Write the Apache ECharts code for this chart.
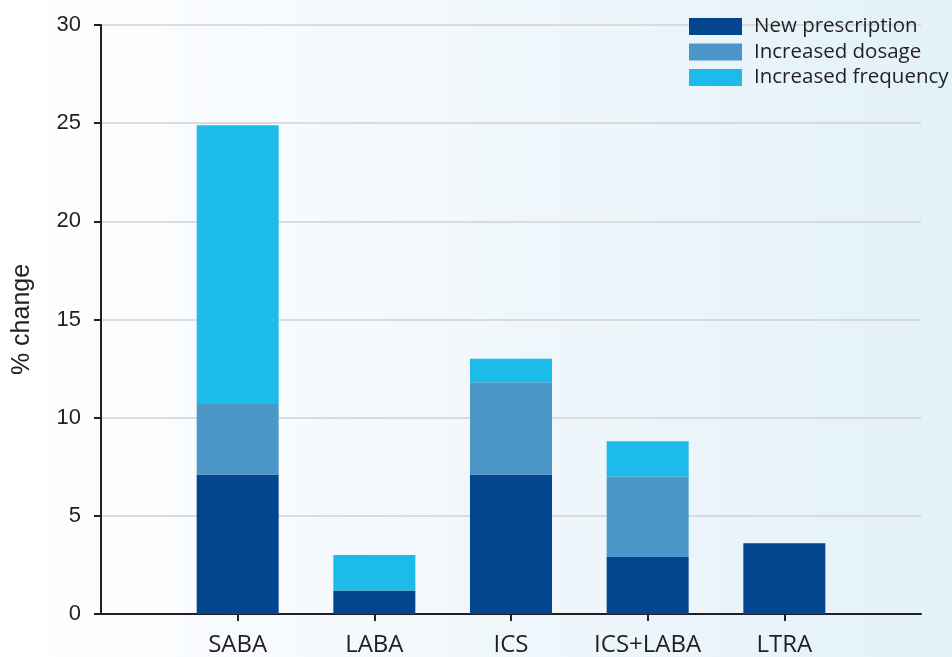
<!DOCTYPE html>
<html>
<head>
<meta charset="utf-8">
<script src="https://cdn.jsdelivr.net/npm/echarts@6/dist/echarts.min.js"></script>
<style>
html,body{margin:0;padding:0;}
#c{width:952px;height:657px;background:linear-gradient(to right,#ffffff 0%,#f8fbfe 25%,#eef6fb 60%,#e3f1f9 100%);}
</style>
</head>
<body>
<div id="c"></div>
<script>
const categories = ['', 'SABA', 'LABA', 'ICS', 'ICS+LABA', 'LTRA', ''];
const newPrescription = [null, 7.1, 1.2, 7.1, 2.9, 3.6, null];
const increasedDosage = [null, 3.6, null, 4.7, 4.1, null, null];
const increasedFrequency = [null, 14.2, 1.8, 1.2, 1.8, null, null];
const seriesNames = ['New prescription', 'Increased dosage', 'Increased frequency'];
const colors = ['#03468f', '#4a97c8', '#1dbbe9'];

const chart = echarts.init(document.getElementById('c'), null, {renderer: 'canvas'});
const mk = (name, data, color) => ({
  name: name, type: 'bar', stack: 'total', data: data, barWidth: 82,
  itemStyle: {color: color}, emphasis: {disabled: true}
});
chart.setOption({
  animation: false,
  backgroundColor: 'transparent',
  color: colors,
  grid: {left: 101, right: 31, top: 25, bottom: 43, containLabel: false},
  legend: {
    orient: 'vertical', left: 689, top: 16, padding: 0,
    itemWidth: 53, itemHeight: 17, itemGap: 4.5,
    icon: 'rect',
    textStyle: {fontSize: 20.5, color: '#231f20', fontFamily: 'Open Sans', padding: [0, 0, 0, 7]},
    data: seriesNames
  },
  xAxis: {
    type: 'category', data: categories, boundaryGap: false,
    axisLine: {lineStyle: {color: '#231f20', width: 2}},
    axisTick: {length: 7, lineStyle: {color: '#231f20', width: 2},
      interval: function (i, v) { return v !== ''; }},
    axisLabel: {fontSize: 24, color: '#231f20', fontFamily: 'Open Sans', margin: 19,
      interval: 0},
    splitLine: {show: false}
  },
  yAxis: {
    type: 'value', min: 0, max: 30, interval: 5,
    name: '% change', nameLocation: 'middle', nameGap: 66, nameRotate: 90,
    nameTextStyle: {fontSize: 25, color: '#231f20', fontFamily: 'Liberation Sans'},
    axisLine: {show: true, lineStyle: {color: '#231f20', width: 2}},
    axisTick: {show: true, length: 7, lineStyle: {color: '#231f20', width: 2}},
    axisLabel: {fontSize: 22, color: '#231f20', fontFamily: 'Liberation Sans', margin: 20},
    splitLine: {show: true, lineStyle: {color: '#cfd2d6', width: 1.5}}
  },
  series: [
    mk(seriesNames[0], newPrescription, colors[0]),
    mk(seriesNames[1], increasedDosage, colors[1]),
    mk(seriesNames[2], increasedFrequency, colors[2])
  ]
});
</script>
</body>
</html>
